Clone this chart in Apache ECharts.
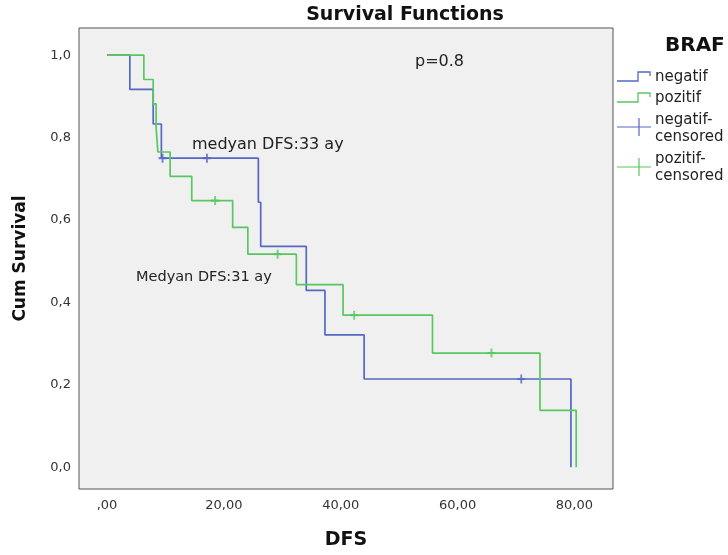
<!DOCTYPE html>
<html><head><meta charset="utf-8">
<script src="https://cdn.jsdelivr.net/npm/echarts@6/dist/echarts.min.js"></script>
<style>html,body{margin:0;padding:0;background:#fff}#c{width:728px;height:555px}</style>
</head><body><div id="c"></div>
<script>
// negatif (blue) Kaplan-Meier steps
const negTimes = [0, 3.9, 7.9, 9.3, 25.9, 26.3, 34.1, 37.3, 44.0, 79.4];
const negSurv  = [1, 0.917, 0.833, 0.75, 0.643, 0.536, 0.429, 0.321, 0.214, 0];
const negCensT = [9.5, 17.1, 70.9];
const negCensV = [0.75, 0.75, 0.214];
// pozitif (green)
const posTimes = [0, 6.3, 7.9, 8.4, 8.7, 10.8, 14.5, 21.5, 24.1, 32.4, 40.4, 55.7, 74.1, 80.3];
const posSurv  = [1, 0.941, 0.882, 0.824, 0.765, 0.706, 0.647, 0.582, 0.517, 0.443, 0.369, 0.277, 0.138, 0];
const posCensT = [18.5, 29.2, 42.3, 65.8];
const posCensV = [0.647, 0.517, 0.369, 0.277];
const xTicks = [0, 20, 40, 60, 80];
const yTicks = [0, 0.2, 0.4, 0.6, 0.8, 1.0];

const BLUE = '#5468c4', GREEN = '#58c760';
const zip = (a, b) => a.map((v, i) => [v, b[i]]);
const cross = 'path://M0,5L10,5M5,0L5,10';
const font = '"DejaVu Sans", sans-serif';
const txt = (x, y, text, size, extra) => ({ type: 'text', x, y,
  style: Object.assign({ text, font: size + 'px ' + font, fill: '#222', verticalAlign: 'middle', align: 'left' }, extra || {}) });

const chart = echarts.init(document.getElementById('c'));
chart.setOption({
  animation: false,
  grid: { left: 79, top: 28, right: 115, bottom: 66, show: true,
    backgroundColor: '#f0f0f0', borderColor: '#555', borderWidth: 1 },
  xAxis: { type: 'value', min: -4.8, max: 86.6,
    name: 'DFS', nameLocation: 'middle', nameGap: 42,
    nameTextStyle: { fontFamily: font, fontSize: 19, fontWeight: 'bold', color: '#111' },
    axisLine: { show: false }, axisTick: { show: false }, splitLine: { show: false },
    axisLabel: { customValues: xTicks, margin: 10, fontFamily: font, fontSize: 13, color: '#333',
      formatter: v => v === 0 ? ',00' : v.toFixed(2).replace('.', ',') } },
  yAxis: { type: 'value', min: -0.053, max: 1.066,
    name: 'Cum Survival', nameLocation: 'middle', nameGap: 50,
    nameTextStyle: { fontFamily: font, fontSize: 17, fontWeight: 'bold', color: '#111' },
    axisLine: { show: false }, axisTick: { show: false }, splitLine: { show: false },
    axisLabel: { customValues: yTicks, margin: 8, fontFamily: font, fontSize: 13, color: '#333',
      formatter: v => v.toFixed(1).replace('.', ',') } },
  series: [
    { type: 'line', step: 'end', data: zip(negTimes, negSurv), showSymbol: false,
      lineStyle: { color: BLUE, width: 1.7 }, z: 2 },
    { type: 'line', step: 'end', data: zip(posTimes, posSurv), showSymbol: false,
      lineStyle: { color: GREEN, width: 1.7 }, z: 3 },
    { type: 'scatter', data: zip(negCensT, negCensV), symbol: cross, symbolSize: [8, 9],
      itemStyle: { color: 'rgba(0,0,0,0)', borderColor: BLUE, borderWidth: 2 }, z: 4 },
    { type: 'scatter', data: zip(posCensT, posCensV), symbol: cross, symbolSize: [8, 9],
      itemStyle: { color: 'rgba(0,0,0,0)', borderColor: GREEN, borderWidth: 2 }, z: 4 }
  ],
  graphic: [
    txt(405, 15, 'Survival Functions', 19, { font: 'bold 19px ' + font, fill: '#111', align: 'center' }),
    txt(415, 62, 'p=0.8', 16),
    txt(192, 145, 'medyan DFS:33 ay', 16),
    txt(136, 277, 'Medyan DFS:31 ay', 14.5),
    txt(665, 46, 'BRAF', 20, { font: 'bold 20px ' + font, fill: '#111' }),
    { type: 'polyline', shape: { points: [[617, 81], [638, 81], [638, 72], [650, 72], [650, 76]] },
      style: { stroke: BLUE, lineWidth: 1.3, fill: null } },
    txt(655, 77, 'negatif', 15),
    { type: 'polyline', shape: { points: [[617, 102], [638, 102], [638, 93], [650, 93], [650, 97]] },
      style: { stroke: GREEN, lineWidth: 1.3, fill: null } },
    txt(655, 98, 'pozitif', 15),
    { type: 'line', shape: { x1: 617, y1: 127, x2: 651, y2: 127 }, style: { stroke: BLUE, lineWidth: 1.2 } },
    { type: 'line', shape: { x1: 639, y1: 118, x2: 639, y2: 136 }, style: { stroke: BLUE, lineWidth: 1.2 } },
    txt(655, 120, 'negatif-', 15), txt(655, 137, 'censored', 15),
    { type: 'line', shape: { x1: 617, y1: 167, x2: 651, y2: 167 }, style: { stroke: GREEN, lineWidth: 1.2 } },
    { type: 'line', shape: { x1: 639, y1: 158, x2: 639, y2: 176 }, style: { stroke: GREEN, lineWidth: 1.2 } },
    txt(655, 159, 'pozitif-', 15), txt(655, 176, 'censored', 15)
  ]
});
</script></body></html>
